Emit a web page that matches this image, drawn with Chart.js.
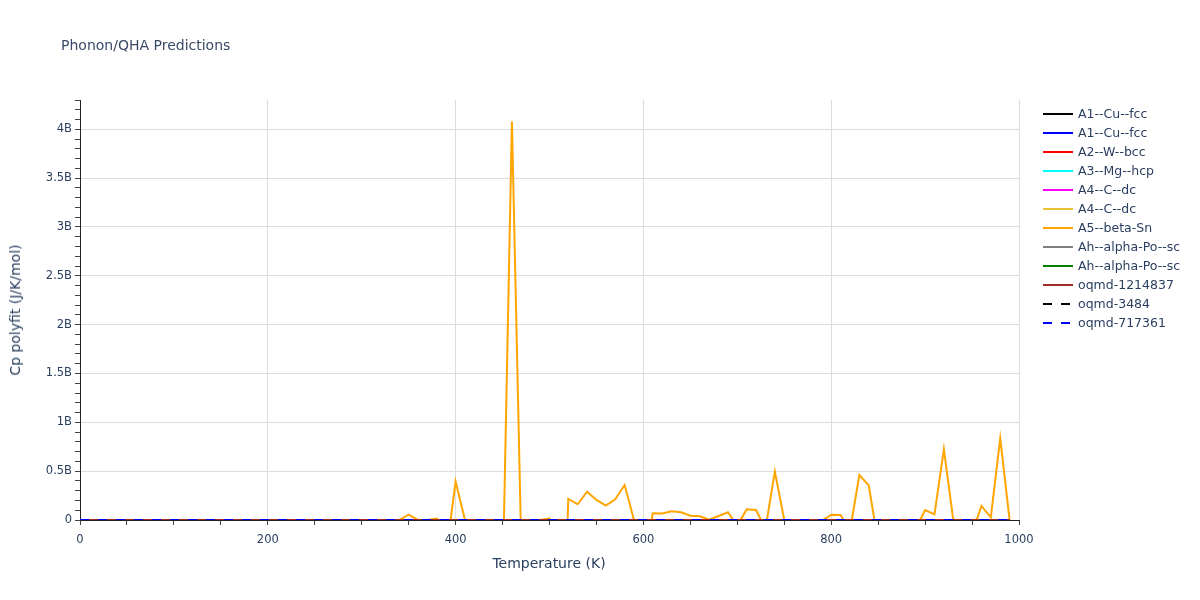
<!DOCTYPE html>
<html>
<head>
<meta charset="utf-8">
<script src="https://cdn.jsdelivr.net/npm/chart.js@4.4.1/dist/chart.umd.min.js"></script>
<style>
body{margin:0;background:#fff;font-family:"DejaVu Sans",sans-serif;}
#wrap{position:relative;width:1200px;height:600px;}
#chart{position:absolute;left:0;top:0;}
.txt{position:absolute;color:#2a3f5f;white-space:nowrap;}
#title{left:61px;top:45px;font-size:14px;transform:translateY(-50%);color:#3a4a66;}
#ytitle{left:15px;top:310px;font-size:14px;transform:translate(-50%,-50%) rotate(-90deg);}
#xtitle{left:549px;top:563px;font-size:14px;transform:translate(-50%,-50%);}
#legend{position:absolute;left:1043px;top:104px;}
.item{height:19px;display:flex;align-items:center;font-size:12.5px;color:#2a3f5f;}
.item svg{margin-right:5px;}
</style>
</head>
<body>
<div id="wrap">
<canvas id="chart" width="1200" height="600"></canvas>
<div class="txt" id="title">Phonon/QHA Predictions</div>
<div class="txt" id="ytitle">Cp polyfit (J/K/mol)</div>
<div class="txt" id="xtitle">Temperature (K)</div>
<div id="legend"></div>
</div>
<script>
// temperature grid for the A5--beta-Sn fit (K)
const temps=[0,10,20,30,40,50,60,70,80,90,100,110,120,130,140,150,160,170,180,190,
200,210,220,230,240,250,260,270,280,290,300,310,320,330,340,350,360,370,380,390,
400,410,420,430,440,450,460,470,480,490,500,510,520,530,540,550,560,570,580,590,
600,610,620,630,640,650,660,670,680,690,700,710,720,730,740,750,760,770,780,790,
800,810,820,830,840,850,860,870,880,890,900,910,920,930,940,950,960,970,980,990]

// A5--beta-Sn, values in J/K/mol
const cpBetaSn=[0,0,0,0,0,0,0,0,0,0,0,0,0,0,0,0,0,0,0,0,
0,0,0,0,0,0,0,0,0,0,0,0,0,0,0,0.055e9,0,0,0.015e9,-0.35e9,
0.39e9,0,0,0,0,-0.7e9,4.035e9,-0.3e9,0,0,0.015e9,-2.8e9,0.213e9,0.159e9,0.287e9,0.203e9,0.145e9,0.21e9,0.354e9,0,
-0.5e9,0.068e9,0.066e9,0.088e9,0.078e9,0.044e9,0.037e9,0.002e9,0.04e9,0.078e9,-0.06e9,0.108e9,0.101e9,-0.09e9,0.49e9,0,0,0,0,-0.01e9,
0.054e9,0.05e9,-0.11e9,0.456e9,0.351e9,-0.23e9,0,0,0,-0.09e9,0.101e9,0.057e9,0.716e9,0,0,-0.136e9,0.142e9,0.027e9,0.827e9,0]

// the other fits are tiny on this scale
const coarseTemps=[0,100,200,300,400,500,600,700,800,900,990]
const cpCuFccA=[0,16.0,22.5,24.4,25.2,25.7,26.1,26.5,26.9,27.3,27.7]
const cpCuFccB=[0,15.8,22.4,24.3,25.1,25.6,26.0,26.4,26.8,27.2,27.5]
const cpWBcc=[0,11.2,21.0,23.8,24.7,25.2,25.6,25.9,26.2,26.5,26.8]
const cpMgHcp=[0,18.4,23.2,24.6,25.3,25.8,26.2,26.7,27.1,27.6,28.0]
const cpCDcA=[0,1.5,5.2,8.6,11.4,13.6,15.3,16.6,17.7,18.5,19.1]
const cpCDcB=[0,1.6,5.3,8.7,11.5,13.7,15.4,16.7,17.8,18.6,19.2]
const cpPoScA=[0,22.0,24.3,25.0,25.4,25.8,26.1,26.4,26.7,27.0,27.3]
const cpPoScB=[0,21.8,24.2,24.9,25.3,25.7,26.0,26.3,26.6,26.9,27.2]
const cpOqmd1214837=[0,14.2,21.7,24.0,24.9,25.4,25.8,26.2,26.6,27.0,27.4]
const cpOqmd3484=[0,17.3,23.0,24.5,25.2,25.6,26.0,26.4,26.7,27.1,27.4]
const cpOqmd717361=[0,19.1,23.6,24.8,25.4,25.9,26.3,26.7,27.1,27.5,27.9]

const seriesNames=["A1--Cu--fcc","A1--Cu--fcc","A2--W--bcc","A3--Mg--hcp","A4--C--dc","A4--C--dc",
"A5--beta-Sn","Ah--alpha-Po--sc","Ah--alpha-Po--sc","oqmd-1214837","oqmd-3484","oqmd-717361"]
const seriesColors=["#000000","#0000ff","#ff0000","#00ffff","#ff00ff","#ebc234",
"#ffa500","#808080","#008000","#a52a2a","#000000","#0000ff"]
const seriesDashed=[false,false,false,false,false,false,false,false,false,false,true,true]
const seriesX=[coarseTemps,coarseTemps,coarseTemps,coarseTemps,coarseTemps,coarseTemps,
temps,coarseTemps,coarseTemps,coarseTemps,coarseTemps,coarseTemps]
const seriesY=[cpCuFccA,cpCuFccB,cpWBcc,cpMgHcp,cpCDcA,cpCDcB,
cpBetaSn,cpPoScA,cpPoScB,cpOqmd1214837,cpOqmd3484,cpOqmd717361]

const yMax=4.253e9

const n=seriesNames.length
let datasets=[]
for(let i=0;i<n;i++){
let pts=seriesX[i].map((t,j)=>({x:t,y:seriesY[i][j]}))
datasets.push({
label:seriesNames[i],
data:pts,
borderColor:seriesColors[i],
backgroundColor:seriesColors[i],
borderWidth:2,
borderDash:seriesDashed[i]?[9,9]:[],
pointRadius:0,
tension:0,
fill:false,
order:n-i
})
}

const tickFont={family:"DejaVu Sans",size:11.5}
const textColor="#2a3f5f"

new Chart(document.getElementById("chart"),{
type:"line",
data:{datasets:datasets},
options:{
responsive:false,
animation:false,
layout:{padding:{left:0,top:100,right:181,bottom:0}},
plugins:{legend:{display:false},tooltip:{enabled:false}},
scales:{
x:{
type:"linear",min:0,max:1000,bounds:"data",
ticks:{stepSize:50,autoSkip:false,maxRotation:0,includeBounds:false,color:textColor,font:tickFont,padding:8,
callback:v=>v%200===0?String(v):""},
grid:{color:c=>(c.tick&&c.tick.value%200===0&&c.tick.value!==0)?"#dcdcdc":"rgba(0,0,0,0)",
tickColor:"#444",tickLength:5,lineWidth:1},
border:{color:"#222",width:1},
afterFit:s=>{s.height=80;s.paddingLeft=0;s.paddingRight=0}
},
y:{
type:"linear",min:0,max:yMax,bounds:"data",
ticks:{stepSize:1e8,autoSkip:false,includeBounds:false,maxTicksLimit:100,color:textColor,font:tickFont,padding:3,
callback:v=>{
let k=Math.round(v/1e8)
if(k%5!==0)return ""
if(k===0)return "0"
return (k/10)+"B"
}},
grid:{color:c=>(c.tick&&Math.round(c.tick.value/1e8)%5===0&&c.tick.value!==0)?"#dcdcdc":"rgba(0,0,0,0)",
tickColor:"#444",tickLength:5,lineWidth:1},
border:{color:"#222",width:1},
afterFit:s=>{s.width=80;s.paddingTop=0;s.paddingBottom=0}
}
}
}
})

// legend
let legend=document.getElementById("legend")
for(let i=0;i<n;i++){
let dash=seriesDashed[i]?' stroke-dasharray="9,9"':''
let row=document.createElement("div")
row.className="item"
row.innerHTML='<svg width="30" height="4"><line x1="0" y1="2" x2="30" y2="2" stroke="'+seriesColors[i]+'" stroke-width="2"'+dash+'/></svg>'+
'<span>'+seriesNames[i]+'</span>'
legend.appendChild(row)
}
</script>
</body>
</html>
